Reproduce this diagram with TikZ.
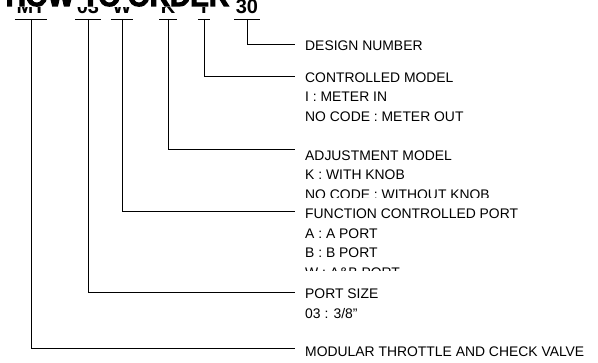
\documentclass[tikz,border=0pt]{standalone}
\usepackage{fontspec}
\setmainfont{Liberation Sans}
\newfontfamily\titlefont{Liberation Sans Bold}[FakeBold=4]
\usetikzlibrary{positioning}

\begin{document}
\begin{tikzpicture}[x=1pt, y=-1pt,
    code/.style={font=\fontsize{20}{20}\selectfont\bfseries, inner xsep=1.5pt, inner ysep=0pt, minimum width=12pt, text depth=5.5pt, anchor=south},
    title/.style={font=\fontsize{28}{28}\titlefont, fill=white, inner sep=0.5pt, anchor=base west},
    head/.style={font=\fontsize{13.9}{19}\selectfont, inner sep=0pt, text height=15pt, text depth=4pt, anchor=west},
    opt/.style={font=\fontsize{13.9}{19}\selectfont, inner sep=0pt, text height=15pt, text depth=4pt},
    tick/.style={line width=0.5pt},
    lead/.style={line width=0.8pt, shorten >=10pt}
]
\useasboundingbox (0,0) rectangle (598,363);
\clip (0,0) rectangle (598,363);

% order code
\node[code] (mt) at (31,19) {MT};
\node[code] (ps) at (88,19) {03};
\node[code] (fp) at (122,19) {W};
\node[code] (km) at (168,19) {K};
\node[code] (cm) at (204,19) {I};
\node[code] (dn) at (247,19) {30};
\node[title] (title) at (5,6) {HOW TO ORDER};

% descriptions
\node[head] (design) at (305,45) {DESIGN NUMBER};
\node[head] (ctrl) at (305,77) {CONTROLLED MODEL};
\node[opt, below right=0pt and 0pt of ctrl.south west] (ctrla) {I : METER IN};
\node[opt, below right=0pt and 0pt of ctrla.south west] (ctrlb) {NO CODE : METER OUT};
\node[head] (adj) at (305,155) {ADJUSTMENT MODEL};
\node[opt, below right=0pt and 0pt of adj.south west] (adja) {K : WITH KNOB};
\begin{scope}
  \clip (adja.south west) rectangle (598,197.5);
  \node[opt, below right=0pt and 0pt of adja.south west] (adjb) {NO CODE : WITHOUT KNOB};
\end{scope}
\node[head] (func) at (305,213.5) {FUNCTION CONTROLLED PORT};
\node[opt, below right=0pt and 0pt of func.south west] (funca) {A : A PORT};
\node[opt, below right=0pt and 0pt of funca.south west] (funcb) {B : B PORT};
\begin{scope}
  \clip (funcb.south west) rectangle (598,271);
  \node[opt, below right=0pt and 0pt of funcb.south west] (funcc) {W : A\&B PORT};
\end{scope}
\node[head] (size) at (305,293.5) {PORT SIZE};
\node[opt, below right=0pt and 0pt of size.south west] (sizea) {03 : 3/8"};
\node[head] (valve) at (305,351) {MODULAR THROTTLE AND CHECK VALVE};

% underlines and leaders
\foreach \c in {mt,ps,fp,km,cm,dn}
  \draw[tick] (\c.south west) -- (\c.south east);
\draw[lead] (dn.south) |- ([yshift=1pt]design.west);
\draw[lead] (cm.south) |- ([yshift=1pt]ctrl.west);
\draw[lead] (km.south) |- ([yshift=6pt]adj.west);
\draw[lead] (fp.south) |- ([yshift=2.5pt]func.west);
\draw[lead] (ps.south) |- ([yshift=1.5pt]size.west);
\draw[lead] (mt.south) |- ([yshift=3pt]valve.west);

\end{tikzpicture}
\end{document}
